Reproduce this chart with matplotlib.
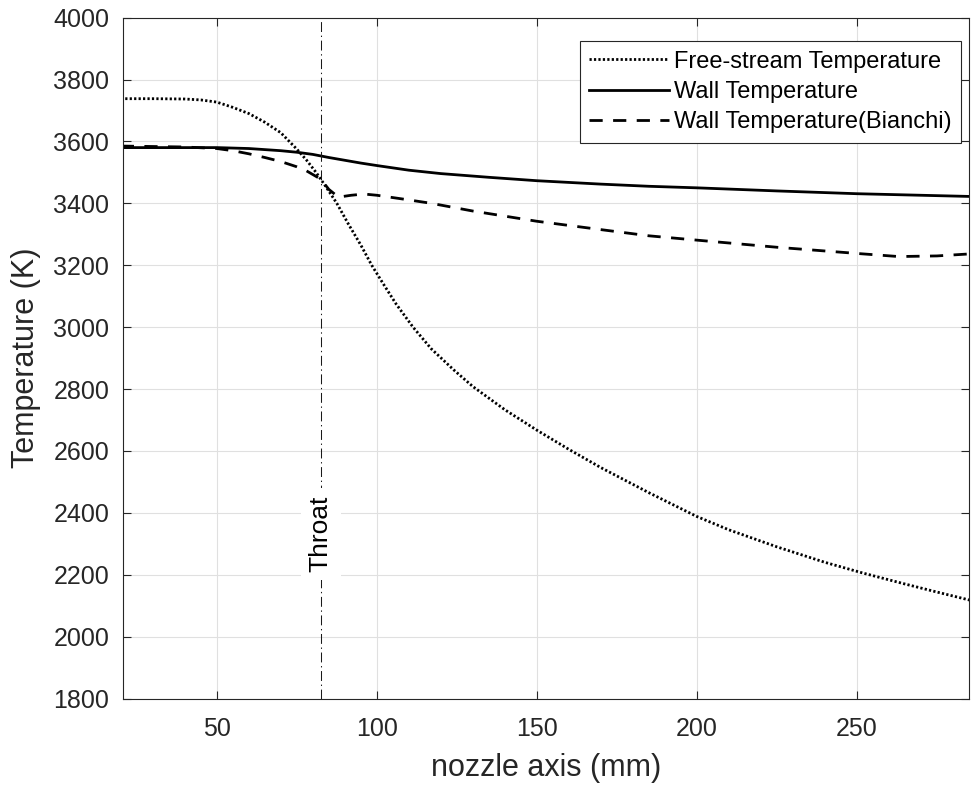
import numpy as np
from matplotlib import pyplot as plt

plt.rcParams['font.family'] = ['Liberation Sans', 'DejaVu Sans']

# Values (x in mm, temperatures in K)
x_free = [20, 30, 40, 45, 50, 55, 60, 65, 70, 75, 78, 81, 84, 87.5, 91, 95, 98.4, 102, 106,
          111.3, 117, 124, 130, 140, 150, 160, 170, 185, 200, 210, 225, 240, 252, 265, 275, 286]
t_free = [3738, 3738, 3737, 3734, 3727, 3710, 3690, 3662, 3628, 3575, 3540, 3500, 3455, 3400,
          3335, 3265, 3200, 3140, 3075, 3000, 2930, 2862, 2808, 2733, 2667, 2605, 2546, 2465,
          2388, 2345, 2290, 2240, 2205, 2170, 2144, 2116]

x_wall = [20, 40, 50, 60, 70, 75, 80, 85, 90, 95, 100, 110, 120, 135, 150, 170, 185, 200, 225,
          250, 270, 286]
t_wall = [3580, 3580, 3580, 3577, 3570, 3565, 3558, 3548, 3539, 3530, 3522, 3507, 3496, 3484,
          3473, 3462, 3455, 3450, 3440, 3431, 3426, 3422]

x_bianchi = [20, 40, 50, 55, 60, 65, 70, 75, 78, 82.5, 85, 88, 92, 96, 100, 108, 117, 130, 150,
             170, 185, 200, 225, 250, 263, 275, 286]
t_bianchi = [3585, 3582, 3577, 3570, 3560, 3548, 3535, 3518, 3505, 3478, 3445, 3420, 3426, 3430,
             3426, 3414, 3400, 3375, 3342, 3315, 3295, 3281, 3258, 3238, 3228, 3230, 3237]

throat_x = 82.5
legend_labels = ['Free-stream Temperature', 'Wall Temperature', 'Wall Temperature(Bianchi)']
x_ticks = [50, 100, 150, 200, 250]
y_ticks = np.arange(1800, 4001, 200)

dark = '#262626'

fig = plt.figure(figsize=(9.71, 7.86), dpi=100)
ax = fig.add_axes([0.1267, 0.1113, 0.8712, 0.8663])

ax.plot(x_free, t_free, color='black', lw=2, linestyle=(0, (0.8, 0.8)), label=legend_labels[0])
ax.plot(x_wall, t_wall, color='black', lw=2, linestyle='-', label=legend_labels[1])
ax.plot(x_bianchi, t_bianchi, color='black', lw=2, linestyle=(0, (4.75, 3.75)), label=legend_labels[2])

# throat marker line + label
ax.axvline(throat_x, color='#1a1a1a', lw=0.75, linestyle=(0, (9.5, 3.5, 1.3, 3.5)), zorder=3)
ax.text(throat_x, 2331, 'Throat', rotation=90, ha='center', va='center', fontsize=19,
        color='black', zorder=4,
        bbox=dict(boxstyle='square,pad=0.3', facecolor='white', edgecolor='none'))

ax.set_xlim(20.7, 285)
ax.set_ylim(1800, 4000)
ax.set_xticks(x_ticks)
ax.set_yticks(y_ticks)

ax.grid(True, color='#e0e0e0', lw=0.8)
ax.set_axisbelow(True)

for sp in ax.spines.values():
    sp.set_color(dark)
    sp.set_linewidth(0.8)

ax.tick_params(axis='both', direction='in', top=True, right=True, length=6, width=0.8,
               color=dark, labelcolor=dark, labelsize=18)
ax.tick_params(axis='x', pad=13)
ax.tick_params(axis='y', pad=10)

ax.set_xlabel('nozzle axis (mm)', fontsize=22, color=dark)
ax.set_ylabel('Temperature (K)', fontsize=22, color=dark)
ax.xaxis.set_label_coords(0.5, -0.080)
ax.yaxis.set_label_coords(-0.097, 0.5)

leg = ax.legend(loc='upper right', bbox_to_anchor=(0.9908, 0.9653), borderaxespad=0,
                fontsize=17, fancybox=False, framealpha=1, edgecolor=dark,
                handlelength=3.4, handletextpad=0.2, labelspacing=0.35, borderpad=0.4)
leg.get_frame().set_linewidth(0.8)
for t in leg.get_texts():
    t.set_color('black')

plt.savefig('out.png', dpi=100)
